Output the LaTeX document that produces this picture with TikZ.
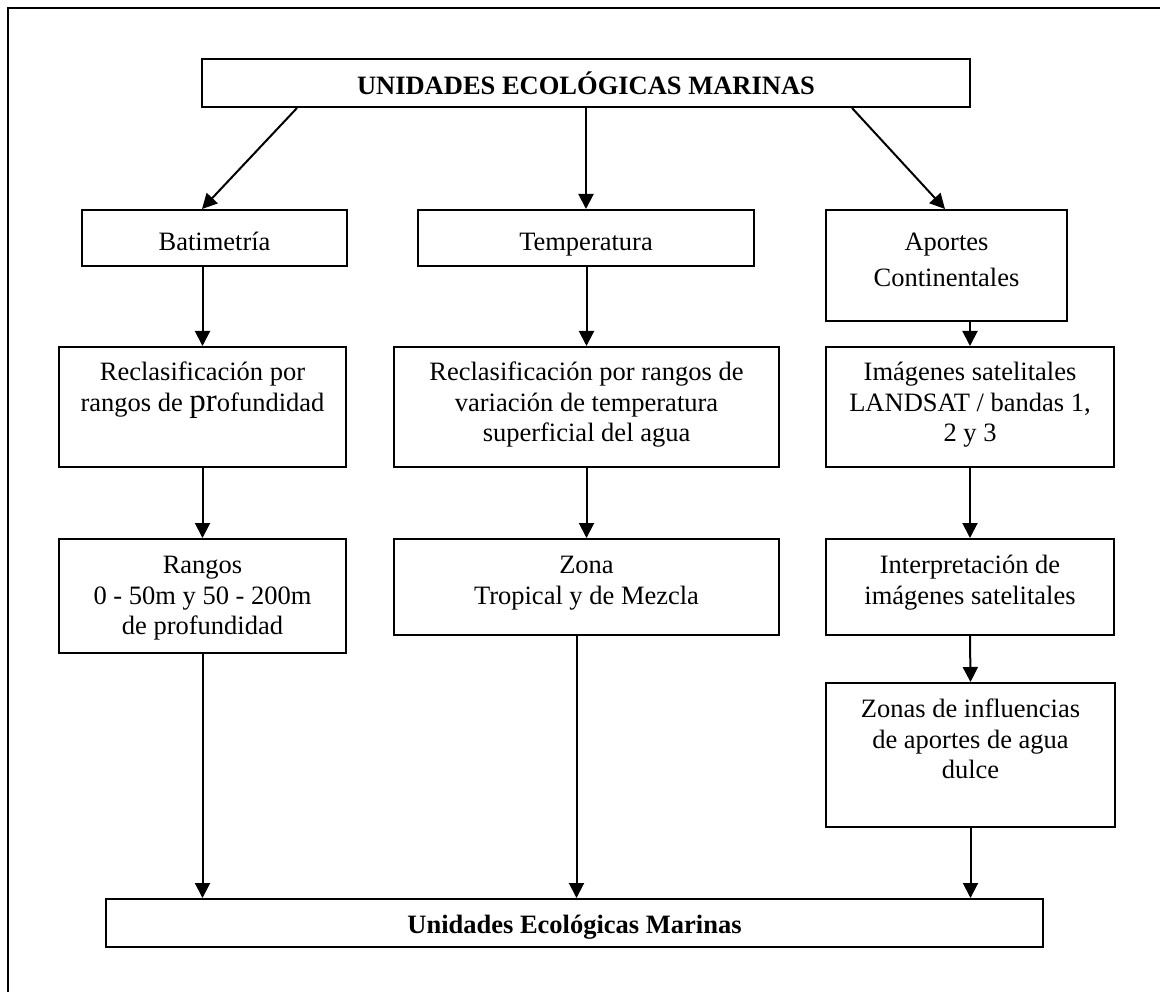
\documentclass[tikz,border=0pt]{standalone}
\usepackage{fontspec}
\setmainfont{Liberation Serif}
\usetikzlibrary{arrows.meta}
% fixed ascent for the first line of every label
\newcommand{\fstrut}{\rule{0pt}{26pt}}
\begin{document}
\begin{tikzpicture}[x=1pt,y=-1pt,
  box/.style={draw, line width=2pt, rectangle, inner sep=0pt, anchor=north west},
  lbl/.style={font=\fontsize{26.5}{30.8}\selectfont, align=center, inner sep=0pt, anchor=north},
  boldlbl/.style={lbl, font=\fontsize{26.5}{30.8}\selectfont\bfseries},
  con/.style={line width=2pt, -{Triangle[length=15pt,width=15pt]}}]
\useasboundingbox (0,0) rectangle (1160,992);
% outer frame, running off the right and bottom edges
\begin{scope}
  \clip (0,0) rectangle (1160,992);
  \draw[line width=2.6pt] (8,8) rectangle (1190,1020);
\end{scope}

% boxes
\node[box, minimum width=768pt, minimum height=48pt]  (top)    at (201,58)  {};
\node[box, minimum width=265pt, minimum height=56pt]  (bat)    at (81,209)  {};
\node[box, minimum width=336pt, minimum height=56pt]  (temp)   at (417,209) {};
\node[box, minimum width=241pt, minimum height=111pt] (ap)     at (825,209) {};
\node[box, minimum width=287pt, minimum height=120pt] (reclA)  at (58,346)  {};
\node[box, minimum width=385pt, minimum height=120pt] (reclB)  at (393,346) {};
\node[box, minimum width=288pt, minimum height=120pt] (img)    at (825,346) {};
\node[box, minimum width=287pt, minimum height=114pt] (rangos) at (58,538)  {};
\node[box, minimum width=385pt, minimum height=96pt]  (zona)   at (393,538) {};
\node[box, minimum width=288pt, minimum height=96pt]  (interp) at (825,538) {};
\node[box, minimum width=289pt, minimum height=144pt] (zonas)  at (825,682) {};
\node[box, minimum width=937pt, minimum height=48pt]  (fin)    at (105,898) {};

% texts
\node[boldlbl] (topT) at ([yshift=-10pt]top.north) {\fstrut UNIDADES ECOLÓGICAS MARINAS};
\node[lbl] (batT)  at ([yshift=-15pt]bat.north)  {\fstrut Batimetría};
\node[lbl] (tempT) at ([yshift=-15pt]temp.north) {\fstrut Temperatura};
\node[lbl, font=\fontsize{26.5}{36.3}\selectfont] (apT) at ([yshift=-15pt]ap.north) {\fstrut Aportes\\Continentales};
\node[lbl] (reclAT) at ([yshift=-8pt]reclA.north) {\fstrut Reclasificación por\\rangos de {\fontsize{33}{30.8}\selectfont pr}ofundidad};
\node[lbl] (reclBT) at ([yshift=-8pt]reclB.north) {\fstrut Reclasificación por rangos de\\variación de temperatura\\superficial del agua};
\node[lbl] (imgT) at ([yshift=-8pt]img.north) {\fstrut Imágenes satelitales\\LANDSAT / bandas 1,\\2 y 3};
\node[lbl] (rangosT) at ([yshift=-9pt]rangos.north) {\fstrut Rangos\\0 - 50m y 50 - 200m\\de profundidad};
\node[lbl] (zonaT) at ([yshift=-9pt]zona.north) {\fstrut Zona\\Tropical y de Mezcla};
\node[lbl] (interpT) at ([yshift=-9pt]interp.north) {\fstrut Interpretación de\\imágenes satelitales};
\node[lbl] (zonasT) at ([yshift=-9pt]zonas.north) {\fstrut Zonas de influencias\\de aportes de agua\\dulce};
\node[boldlbl] (finT) at ([yshift=-9pt]fin.north) {\fstrut Unidades Ecológicas Marinas};

% connectors
\draw[con] ([xshift=96pt]top.south west) -- ([xshift=121pt]bat.north west);
\draw[con] (top.south) -- (temp.north);
\draw[con] ([xshift=-119pt]top.south east) -- ([xshift=120pt]ap.north west);

\draw[con] (reclA.north |- bat.south) -- (reclA.north);
\draw[con] (reclA.south) -- (rangos.north);
\draw[con] (rangos.south) -- (rangos.south |- fin.north);

\draw[con] (reclB.north |- temp.south) -- (reclB.north);
\draw[con] (reclB.south) -- (zona.north);
\draw[con] ([xshift=-10pt]zona.south) -- ([xshift=-10pt]zona.south |- fin.north);

\draw[con] (img.north |- ap.south) -- (img.north);
\draw[con] (img.south) -- (interp.north);
\draw[con] (interp.south) -- (zonas.north);
\draw[con] (zonas.south) -- (zonas.south |- fin.north);
\end{tikzpicture}
\end{document}
